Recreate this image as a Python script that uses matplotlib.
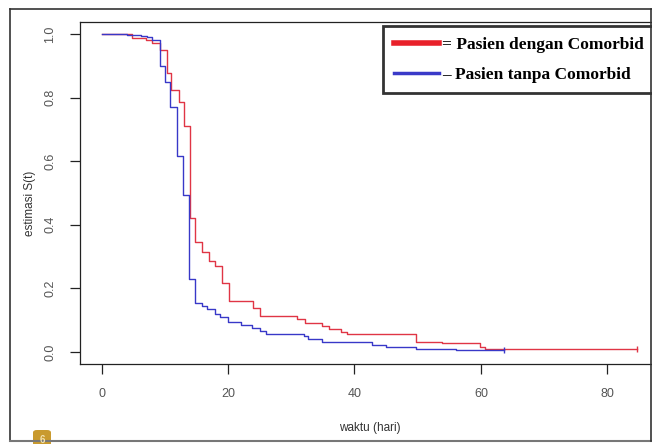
import matplotlib.pyplot as plt
from matplotlib.patches import FancyBboxPatch
from matplotlib.lines import Line2D

# Kaplan-Meier step estimates
waktu_comorbid = [0, 4.8, 7, 8, 9.3, 10.3, 11, 12.2, 13, 14, 14.8, 15.9, 17, 18, 19, 20.1,
                  24, 25, 30.9, 32.2, 34.9, 35.9, 37.9, 38.8, 49.8, 53.8, 59.9, 60.7, 84.6]
s_comorbid = [1.0, 0.987, 0.98, 0.973, 0.95, 0.877, 0.824, 0.785, 0.71, 0.42, 0.345, 0.313,
              0.286, 0.27, 0.218, 0.16, 0.14, 0.114, 0.105, 0.091, 0.083, 0.072, 0.064,
              0.056, 0.033, 0.027, 0.017, 0.009, 0.009]

waktu_tanpa = [0, 4, 6.2, 7.2, 8, 9.3, 10.1, 10.9, 12, 12.9, 13.9, 14.8, 15.9, 16.7, 18, 18.8,
               20, 22, 23.8, 25, 26, 32, 32.7, 34.9, 42.7, 45, 49.8, 56, 63.7]
s_tanpa = [1.0, 0.997, 0.994, 0.99, 0.98, 0.90, 0.85, 0.77, 0.615, 0.495, 0.23, 0.155, 0.145,
           0.135, 0.12, 0.11, 0.093, 0.085, 0.077, 0.067, 0.056, 0.051, 0.041, 0.03, 0.022,
           0.017, 0.01, 0.006, 0.006]

label_comorbid = "= Pasien dengan Comorbid"
label_tanpa = "\u2013 Pasien tanpa Comorbid"
x_ticks = [0, 20, 40, 60, 80]
y_ticks = [0.0, 0.2, 0.4, 0.6, 0.8, 1.0]

plt.rcParams['font.family'] = ['Liberation Sans', 'DejaVu Sans']

W, H = 652, 444
fig = plt.figure(figsize=(W / 100, H / 100), dpi=100)

# outer frame of the figure panel
fig.add_artist(Line2D([10 / W, 10 / W], [3 / H, 435 / H], color='#333333', lw=1.2))
fig.add_artist(Line2D([10 / W, 1], [435 / H, 435 / H], color='#333333', lw=1.2))
fig.add_artist(Line2D([10 / W, 1], [3 / H, 3 / H], color='#777777', lw=1.5))
fig.add_artist(Line2D([650.5 / W, 650.5 / W], [3 / H, 435 / H], color='#333333', lw=1.2))
fig.patches.append(FancyBboxPatch((33 / W, -6 / H), 18 / W, 20 / H,
                                  boxstyle="round,pad=0,rounding_size=0.006",
                                  transform=fig.transFigure, facecolor='#c99a2e', edgecolor='none'))
fig.text(42 / W, 4 / H, "6", color='#f3e2b0', fontsize=7, ha='center', va='center',
         fontweight='bold')

left, right, top, bottom = 80, 660.6, 22, 364
ax = fig.add_axes([left / W, (H - bottom) / H, (right - left) / W, (bottom - top) / H])

c_red = '#e03545'
c_blue = '#3838c8'
ax.step(waktu_comorbid, s_comorbid, where='post', color=c_red, lw=1)
ax.step(waktu_tanpa, s_tanpa, where='post', color=c_blue, lw=1)
ax.plot(waktu_comorbid[-1], s_comorbid[-1], marker='|', color=c_red, ms=4, mew=1)
ax.plot(waktu_tanpa[-1], s_tanpa[-1], marker='|', color=c_blue, ms=4, mew=1)

ax.set_xlim(-3.4, 88.4)
ax.set_ylim(-0.0376, 1.0376)
ax.set_xticks(x_ticks)
ax.set_yticks(y_ticks)
ax.set_xticklabels([str(v) for v in x_ticks])
ax.set_yticklabels([f"{v:.1f}" for v in y_ticks], rotation=90, va='center')
ax.tick_params(length=7, width=0.9, colors='#222222', labelcolor='#555555', labelsize=9, pad=10)
for sp in ax.spines.values():
    sp.set_linewidth(0.9)
    sp.set_color('#222222')

ax.set_xlabel("waktu (hari)", fontsize=8.5, color='#333333', labelpad=16)
ax.set_ylabel("estimasi S(t)", fontsize=8.5, color='#333333')
ax.yaxis.set_label_coords(-0.076, 0.47)

handles = [Line2D([], [], color='#e8202a', lw=4), Line2D([], [], color='#3a3ac8', lw=2.5)]
leg = ax.legend(handles, [label_comorbid, label_tanpa], loc='upper left',
                bbox_to_anchor=((383 - left) / (right - left), 1 - 4 / (bottom - top)),
                prop={'family': 'Liberation Serif', 'weight': 'bold', 'size': 12.5},
                frameon=True, fancybox=False, handlelength=2.6, handletextpad=0.2,
                labelspacing=0.78, borderpad=0.62, borderaxespad=0)
leg.get_frame().set_edgecolor('black')
leg.get_frame().set_linewidth(2)

fig.savefig("out.png", dpi=100)
